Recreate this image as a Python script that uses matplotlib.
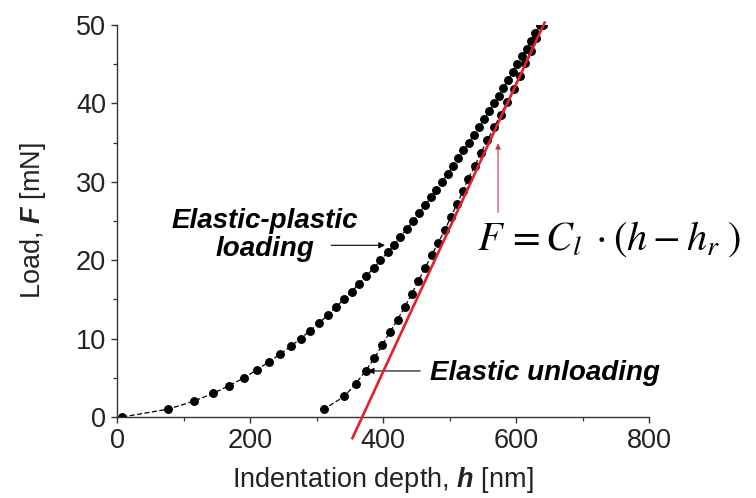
import matplotlib
matplotlib.use('Agg')
import matplotlib.pyplot as plt
from matplotlib.ticker import MultipleLocator

plt.rcParams['font.family'] = ['Liberation Sans', 'DejaVu Sans']
plt.rcParams['mathtext.fontset'] = 'custom'
plt.rcParams['mathtext.rm'] = 'Liberation Sans'
plt.rcParams['mathtext.bfit'] = 'Liberation Sans:italic:bold'

# loading branch (1 mN steps), depth in nm
load_F = list(range(0, 51))
load_h = [8, 77, 115, 144, 169, 191, 210, 228, 245, 261,
          276, 290, 304, 317, 329, 341, 353, 364, 375, 386,
          396, 407, 417, 426, 436, 445, 454, 463, 472, 480,
          489, 497, 505, 513, 521, 529, 537, 545, 552, 560,
          567, 574, 581, 588, 595, 602, 609, 616, 622, 629, 636]

# unloading branch
unload_F = [50.0, 48.37, 46.73, 45.1, 43.47, 41.83, 40.2, 38.57, 36.93, 35.3,
            33.67, 32.03, 30.4, 28.77, 27.13, 25.5, 23.87, 22.23, 20.6, 18.97,
            17.33, 15.7, 14.07, 12.43, 10.8, 9.17, 7.53, 5.9, 4.27, 2.63, 1.0]
unload_h = [640, 630, 622, 614, 606, 597, 587, 577, 567, 557,
            547, 538, 528, 520, 511, 502, 493, 483, 473, 463,
            453, 443, 433, 422, 410, 399, 387, 374, 359, 342, 311]

# linear fit of the upper unloading part
fit_h = [354, 643]
fit_F = [-2.7, 50.3]

fig = plt.figure(figsize=(7.56, 4.98), dpi=100)
ax = fig.add_axes([0.1548, 0.1627, 0.7037, 0.7871])

ax.plot(load_h, load_F, color='black', ls='--', lw=0.9, marker='o', ms=5.4,
        dashes=(4, 2))
ax.plot(unload_h, unload_F, color='black', ls='--', lw=0.9, marker='o', ms=5.4,
        dashes=(4, 2))
ax.plot(fit_h, fit_F, color='#e3202b', lw=1.9, clip_on=False, zorder=5)

ax.set_xlim(0, 800)
ax.set_ylim(0, 50)
ax.xaxis.set_major_locator(MultipleLocator(200))
ax.xaxis.set_minor_locator(MultipleLocator(100))
ax.yaxis.set_major_locator(MultipleLocator(10))
ax.yaxis.set_minor_locator(MultipleLocator(5))
for s in ['top', 'right']:
    ax.spines[s].set_visible(False)
for s in ['left', 'bottom']:
    ax.spines[s].set_linewidth(1.0)
    ax.spines[s].set_color('#333333')
ax.tick_params(which='major', direction='out', length=4.5, width=1.0,
               labelsize=19.5, color='#333333', labelcolor='#222222')
ax.tick_params(which='minor', direction='out', length=3, width=0.9, color='#333333')

ax.set_xlabel(r'Indentation depth, $\mathbfit{h}$ [nm]', fontsize=19.5,
              color='#222222', labelpad=8)
ax.set_ylabel(r'Load, $\mathbfit{F}$ [mN]', fontsize=19.5, color='#222222',
              labelpad=20)

ax.text(222, 23.2, 'Elastic-plastic\nloading', fontsize=20, fontweight='bold',
        style='italic', ha='center', va='center', linespacing=1.1)
ax.annotate('', xy=(403, 21.9), xytext=(322, 21.9),
            arrowprops=dict(arrowstyle='-|>', color='black', lw=0.8,
                            mutation_scale=9, shrinkA=0, shrinkB=0))

ax.text(471, 5.6, 'Elastic unloading', fontsize=20, fontweight='bold',
        style='italic', ha='left', va='center', clip_on=False)
ax.annotate('', xy=(377, 5.87), xytext=(456, 5.87),
            arrowprops=dict(arrowstyle='-|>', color='black', lw=0.8,
                            mutation_scale=9, shrinkA=0, shrinkB=0))

ax.text(541, 21.3, r'$F\,=C_l\;\cdot(h-h_r\;)$', fontsize=29,
        math_fontfamily='stix', ha='left', va='baseline', clip_on=False)
ax.annotate('', xy=(573, 34.9), xytext=(573, 26.1),
            arrowprops=dict(arrowstyle='-|>', color='#b8404f', lw=0.8,
                            mutation_scale=8, shrinkA=0, shrinkB=0))

fig.savefig('out.png', dpi=100)
